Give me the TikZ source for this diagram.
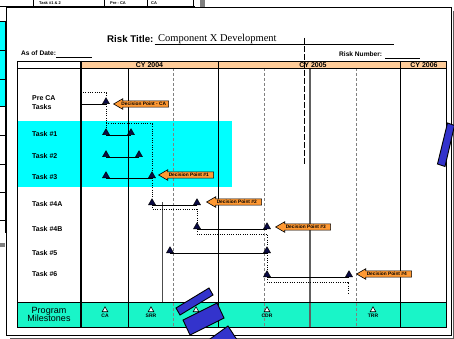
\documentclass[tikz,border=0pt]{standalone}
\usepackage{fontspec}
\setmainfont{Liberation Sans}
\newfontfamily\timesfont{Liberation Serif}
\usetikzlibrary{arrows.meta,positioning,shapes.geometric,shapes.arrows}

\definecolor{peach}{RGB}{255,204,153}
\definecolor{aqua}{RGB}{0,255,255}
\definecolor{msgreen}{RGB}{25,245,200}
\definecolor{dporange}{RGB}{255,153,51}
\definecolor{blockblue}{RGB}{51,51,204}
\definecolor{navy}{RGB}{10,10,70}

\begin{document}
\begin{tikzpicture}[
  x=1pt, y=-1pt,
  task/.style={regular polygon, regular polygon sides=3, draw=black, fill=navy,
               line width=0.5pt, inner sep=0pt, minimum size=8pt, anchor=south},
  mile/.style={regular polygon, regular polygon sides=3, draw=black, fill=white,
               line width=0.6pt, inner sep=0pt, minimum size=6.5pt, anchor=south},
  rowlbl/.style={font=\fontsize{7}{9}\selectfont\bfseries, anchor=west,
                 align=left, inner sep=0pt},
  hdr/.style={font=\fontsize{7}{8}\selectfont\bfseries, inner sep=0pt},
  mslbl/.style={font=\fontsize{5}{6}\selectfont\bfseries, inner sep=0pt},
  oldlbl/.style={font=\fontsize{4}{4}\selectfont\bfseries, inner sep=0pt},
  dp/.style={single arrow, shape border rotate=180, draw, fill=dporange,
             line width=0.6pt, single arrow head extend=2.2pt,
             single arrow tip angle=60, inner sep=1pt, minimum height=55pt,
             font=\fontsize{4.8}{5}\selectfont\bfseries, anchor=tip},
  link/.style={line width=0.6pt},
  dots/.style={dash pattern=on 1pt off 1.3pt, line width=1pt},
  grid/.style={gray, dash pattern=on 3pt off 2pt, line width=0.6pt},
  blk/.style={draw=black, fill=blockblue, line width=0.9pt}
]
\useasboundingbox (0,0) rectangle (454,339);
\fill[white] (0,0) rectangle (454,339);

%% ---- sheets behind ----
\begin{scope}
  \clip (0,0) rectangle (454,339);
  \draw (0,6) -- (195,6);
  \foreach \x in {33,104,147,193} \draw (\x,-2) -- (\x,6);
  \fill[gray] (200,-1) rectangle (205,7);
  \node[oldlbl] (oldA) at (50,3) {Task \#1 \& 2};
  \node[oldlbl] (oldB) at (118,3) {Pre - CA};
  \node[oldlbl] (oldC) at (154,3) {CA};
  \fill[aqua] (-1,21) rectangle (5,106);
  \draw (5,21) -- (5,233);
  \foreach \y in {21,50,79,106,135,164,192,220} \draw (-1,\y) -- (5,\y);
  \fill[gray] (-1,243) rectangle (5,247);
\end{scope}

%% ---- sheet ----
\draw[gray!70!black, line width=0.8pt] (10,338) -- (454,338);
\draw[gray!70!black, line width=0.8pt] (453.5,11) -- (453.5,338);
\draw[fill=white, line width=0.8pt] (6,7) rectangle (451,335);

\node[font=\fontsize{9.7}{11}\selectfont\bfseries, anchor=base west, inner sep=0pt]
  (rtitle) at (107,43) {Risk Title:};
\node[font=\timesfont\fontsize{10.5}{12}\selectfont, anchor=base west, inner sep=0pt]
  (rname) at (158,42) {Component X Development};
\draw[line width=0.6pt] ([xshift=1pt, yshift=-1.5pt]rtitle.base east) -- ++(239,0);

\node[font=\fontsize{6.6}{8}\selectfont\bfseries, anchor=base west, inner sep=0pt]
  (asof) at (21,56) {As of Date:};
\draw[line width=0.6pt] ([yshift=-1pt]asof.base east) -- ++(36,0);

\node[font=\fontsize{6.6}{8}\selectfont\bfseries, anchor=base west, inner sep=0pt]
  (risknum) at (339,57) {Risk Number:};
\draw[line width=0.6pt] ([xshift=3pt, yshift=-1pt]risknum.base east) -- ++(35,0);

%% ---- table fills ----
\fill[peach] (81,61) rectangle (446,68);
\fill[aqua] (17,121) rectangle (232,187);
\fill[msgreen] (17,302) rectangle (446,327);

%% ---- time grid ----
\foreach \x in {173,264,356} \draw[grid] (\x,68) -- (\x,327);
\draw[line width=0.6pt] (128,68) -- (128,327);
\draw[line width=0.5pt, gray!60!black] (162,202) -- (162,302);
\draw[line width=0.9pt] (218,61) -- (218,327);
\draw[line width=1.5pt, gray!75!black] (310,68) -- (310,327);
\draw[line width=0.7pt] (400,61) -- (400,327);
\draw[line width=0.5pt, dash pattern=on 6pt off 2pt] (304,38) -- (304,165);

\draw[line width=0.9pt] (17,61) rectangle (446,327);
\draw[line width=0.7pt] (17,68) -- (446,68);
\draw[line width=0.8pt] (17,302) -- (446,302);
\draw[line width=1.5pt] (81,61) -- (81,327);

\node[hdr] (cy4) at (149.5,64.8) {CY 2004};
\node[hdr] (cy5) at (313,64.8) {CY 2005};
\node[hdr] (cy6) at (424,64.8) {CY 2006};

%% ---- rows ----
\node[rowlbl] (rpre) at (32,103) {Pre CA\\Tasks};
\node[rowlbl] (r1) at (32,134) {Task \#1};
\node[rowlbl] (r2) at (32,156) {Task \#2};
\node[rowlbl] (r3) at (32,177) {Task \#3};
\node[rowlbl] (r4a) at (32,204) {Task \#4A};
\node[rowlbl] (r4b) at (32,229) {Task \#4B};
\node[rowlbl] (r5) at (32,253) {Task \#5};
\node[rowlbl] (r6) at (32,274) {Task \#6};
\node[font=\fontsize{9}{8.6}\selectfont, align=center, inner sep=0pt]
  (pm) at (49,314.5) {Program\\Milestones};

%% ---- task marks ----
\node[task] (pre) at (106,104) {};
\node[task] (t1s) at (106,135) {};
\node[task] (t1e) at (131,135) {};
\node[task] (t2s) at (106,157) {};
\node[task] (t2e) at (139,157) {};
\node[task] (t3s) at (106,178) {};
\node[task] (t3e) at (152,178) {};
\node[task] (t4as) at (152,205) {};
\node[task] (t4ae) at (197,205) {};
\node[task] (t4bs) at (197,229) {};
\node[task] (t4be) at (267,229) {};
\node[task] (t5s) at (170,253) {};
\node[task] (t5e) at (267,253) {};
\node[task] (t6s) at (267,277) {};
\node[task] (t6e) at (349,277) {};

\coordinate (preL) at (81,104);
\coordinate (preD) at (83,93);
\coordinate (d1) at (106,124);
\coordinate (t6end) at (348,293);

%% ---- bars ----
\draw[link] (preL) -- (pre.south);
\draw[link] (t1s.south) -- (t1e.south);
\draw[link] (t2s.south) -- (t2e.south);
\draw[link] (t3s.south) -- (t3e.south);
\draw[link] (t4as.south) -- (t4ae.south);
\draw[link] (t4bs.south) -- (t4be.south);
\draw[link] (t5s.south) -- (t5e.south);
\draw[link] (t6s.south) -- (t6e.south);

%% ---- dotted hand-offs ----
\draw[dots] (preD) -| (pre.north);
\draw[dots] (pre.south) -- (t1s.north);
\draw[dots] (d1) -| (t3e.north);
\draw[dots] (t3e.south) -- (t4as.north);
\draw[dots] (t4as.south) -- ++(0,4) -| (t4bs.north);
\draw[dots] (t4bs.south) -- ++(0,5) -| (t5e.north);
\draw[dots] (t5e.south) -- (t6s.north);
\draw[dots] (t6s.south) -- ++(0,5) -| (t6end);

%% ---- decision points ----
\node[dp] (dpca) at (113,104) {Decision Point - CA};
\node[dp] (dp1) at (158,175) {Decision Point \#1};
\node[dp] (dp2) at (206,202) {Decision Point \#2};
\node[dp] (dp3) at (275,227) {Decision Point \#3};
\node[dp] (dp4) at (356,274) {Decision Point \#4};

%% ---- milestones ----
\node[mile] (msca) at (105,312) {};
\node[mile] (mssrr) at (151,312) {};
\node[mile] (msx) at (196,312) {};
\node[mile] (mscdr) at (267,312) {};
\node[mile] (mstrr) at (373,312) {};
\node[mslbl, below=2pt of msca] (lca) {CA};
\node[mslbl, below=2pt of mssrr] (lsrr) {SRR};
\node[mslbl, below=2pt of mscdr] (lcdr) {CDR};
\node[mslbl, below=2pt of mstrr] (ltrr) {TRR};

%% ---- blue blocks on top ----
\begin{scope}
  \clip (0,0) rectangle (454,339);
  \filldraw[blk] (437.5,164) -- (445,166.5) -- (454.5,125.5) -- (447.5,123) -- cycle;
  \filldraw[blk] (176,308) -- (180,315) -- (213,295) -- (209,288) -- cycle;
  \filldraw[blk] (183,320) -- (190,335) -- (224,318) -- (217,303) -- cycle;
  \filldraw[blk] (203,344) -- (214,362) -- (241,346) -- (228,326) -- cycle;
\end{scope}

\end{tikzpicture}
\end{document}
